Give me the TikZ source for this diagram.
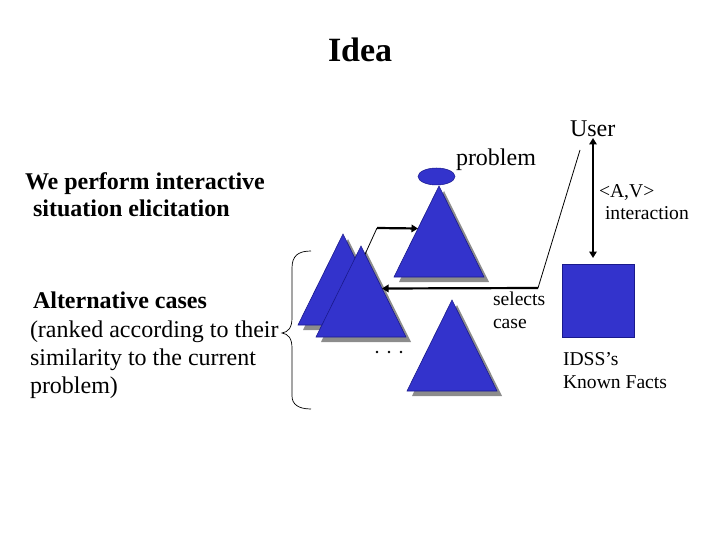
\documentclass[tikz,border=0pt]{standalone}
\usepackage{fontspec}
\setmainfont{Liberation Serif}
\usetikzlibrary{arrows.meta,calc,shapes.geometric}
\definecolor{triblue}{HTML}{3333CC}
\definecolor{triedge}{HTML}{1A1A8C}
\definecolor{shadegray}{HTML}{8C8C8C}
\tikzset{
  txt/.style={anchor=base west,inner sep=0pt,outer sep=0pt},
  big/.style={txt,font=\fontsize{24}{28}\selectfont},
  bigb/.style={txt,font=\fontsize{24}{28}\selectfont\bfseries},
  small/.style={txt,font=\fontsize{19.6}{23}\selectfont},
  thinline/.style={line width=0.8pt},
  tip/.style={},
  thickarrow/.style={line width=2.2pt,-{Triangle[length=6.5pt,width=7.5pt]}},
  casetri/.pic={
    \fill[shadegray] (5,5) -- (50,96) -- (-40,96) -- cycle;
    \filldraw[fill=triblue,draw=triedge,line width=0.6pt] (0,0) -- (45,91) -- (-45,91) -- cycle;
    \coordinate (-apex) at (0,0);
    \coordinate (-bl) at (-45,91);
    \coordinate (-br) at (45,91);
  }
}
\begin{document}
\begin{tikzpicture}[x=1pt,y=-1pt]
\useasboundingbox (0,0) rectangle (720,540);

% title
\node[txt,font=\fontsize{34}{40}\selectfont\bfseries] (title) at (328,62) {Idea};

% left texts
\node[bigb] (l1) at (25,190) {We perform interactive};
\node[bigb] (l2) at (33,217) {situation elicitation};
\node[bigb] (l3) at (33,308) {Alternative cases};
\node[big] (l4) at (30,337) {(ranked according to their};
\node[big] (l5) at (30,365) {similarity to the current};
\node[big] (l6) at (30,393) {problem)};

% brace
\draw[line width=0.7pt] (311,251) .. controls (298,251) and (292,256) .. (292,268)
  -- (292,318) .. controls (292,328) and (288,332) .. (282,333)
  .. controls (288,334) and (292,338) .. (292,348)
  -- (292,396) .. controls (292,404) and (298,409) .. (311,409);

% triangles
\pic (back) at (343,234) {casetri};
\pic (front) at (361,246) {casetri};
\pic (top) at (439,186) {casetri};
\pic (bottom) at (452,300) {casetri};

% problem ellipse
\node[ellipse,fill=triblue,draw=triedge,line width=0.5pt,minimum width=37pt,minimum height=17pt,inner sep=0pt] (prob) at (436.5,176.5) {};

% dots
\fill (377,352) circle (1.4) (389,352) circle (1.4) (401,352) circle (1.4);

% right texts
\node[big] (user) at (570,137) {User};
\node[big] (problem) at (456,166) {problem};
\node[small] (av) at (599,197) {<A,V>};
\node[small] (inter) at (605,220) {interaction};
\node[small] (sel) at (493,305) {selects};
\node[small] (case) at (493,328) {case};
\node[small] (idss) at (563,365) {IDSS’s};
\node[small] (known) at (563,388) {Known Facts};

% known facts square
\node[fill=triblue,draw=triedge,line width=0.5pt,minimum width=72pt,minimum height=73pt,inner sep=0pt] (facts) at (598,300.5) {};

% connectors
\coordinate (a1) at ($(front-apex)!0.09!(front-br)$);
\coordinate (a2) at (377,228);
\coordinate (a3) at ($(top-apex)!0.467!(top-bl)$);
\draw[thinline] (a1) -- (a2);
\draw[thickarrow] (a2) -- (a3);

\coordinate (s1) at (538,288);
\coordinate (s0) at (580,150);
\coordinate (s2) at ($(front-apex)!0.467!(front-br)$);
\draw[thinline] (s0) -- (s1);
\draw[thickarrow] (s1) -- (s2);

\coordinate (u1) at (593,138);
\coordinate (u2) at (593,258);
\draw[line width=2.2pt,{Triangle[length=6.5pt,width=7.5pt]}-{Triangle[length=6.5pt,width=7.5pt]}] (u1) -- (u2);
\end{tikzpicture}
\end{document}
